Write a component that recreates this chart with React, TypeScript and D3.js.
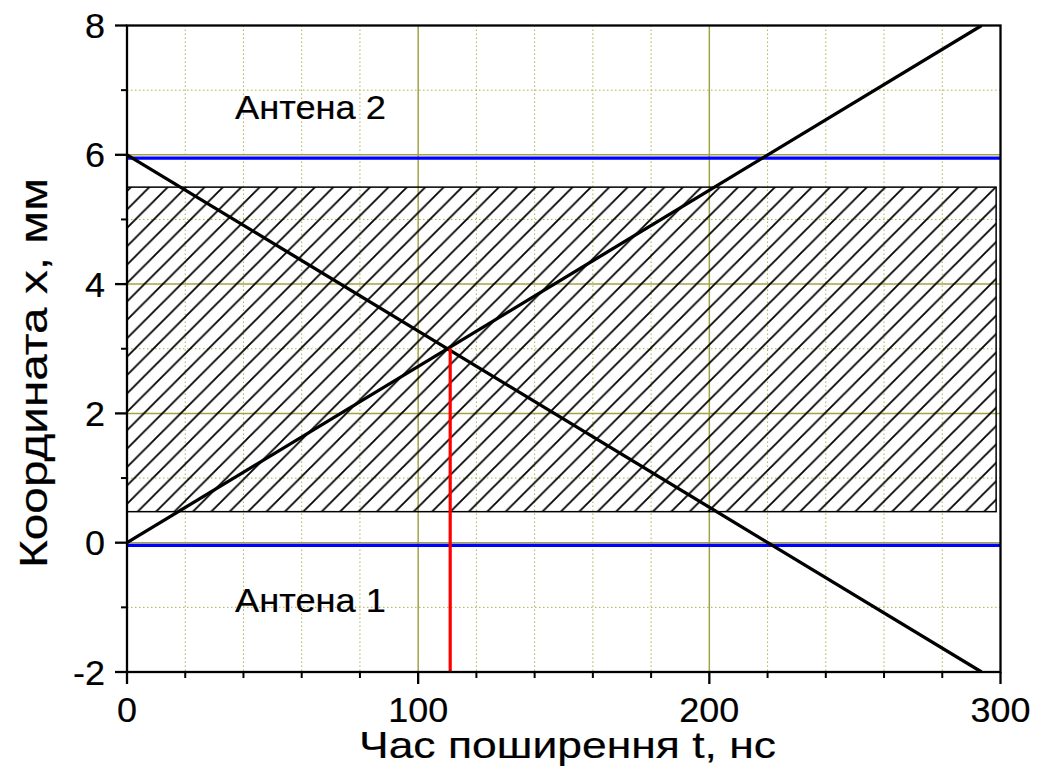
import React from "react";
import * as d3 from "d3";

// ---- data ----
const xDomain = [0, 300];
const yDomain = [-2, 8];
const xMajorTicks = [0, 100, 200, 300];
const xMinorTicks = [20, 40, 60, 80, 120, 140, 160, 180, 220, 240, 260, 280];
const yMajorTicks = [-2, 0, 2, 4, 6, 8];
const yMinorTicks = [-1, 1, 3, 5, 7];
const antennaLevels = [-0.04, 5.95];
const risingLine = [
  { t: 0, x: 0 },
  { t: 293.5, x: 8 },
];
const fallingLine = [
  { t: 0, x: 6 },
  { t: 293.5, x: -2 },
];
const meetingLine = [
  { t: 111, x: -2 },
  { t: 111, x: 3 },
];
const hatchT = [0, 298.5];
const hatchX = [0.48, 5.5];
const annotations = [
  { text: "Антена 2", t: 37.1, x: 6.55 },
  { text: "Антена 1", t: 37.1, x: -1.07 },
];
const xTitle = "Час поширення t, нс";
const yTitle = "Координата x, мм";

const FONT = "'Liberation Sans', Arial, sans-serif";

export default function App() {
  const xs = d3.scaleLinear().domain(xDomain).range([127, 1000.5]);
  const ys = d3.scaleLinear().domain(yDomain).range([672, 25.5]);
  const line = d3
    .line<{ t: number; x: number }>()
    .x((d) => xs(d.t))
    .y((d) => ys(d.x));

  const left = xs(xDomain[0]);
  const right = xs(xDomain[1]);
  const top = ys(yDomain[1]);
  const bottom = ys(yDomain[0]);

  const majorGrid = "#a3a345";
  const minorGrid = "#b0b050";
  const textStroke = { stroke: "#000", strokeWidth: 0.2 };

  const labelLen = (v: number) => {
    const s = String(v);
    return s.replace("-", "").length * 20 + (s.includes("-") ? 12 : 0);
  };

  return (
    <svg
      width={1042}
      height={772}
      style={{ position: "absolute", left: 0, top: 0, background: "#fff" }}
      fontFamily={FONT}
    >
      <defs>
        <pattern
          id="hatch"
          patternUnits="userSpaceOnUse"
          width={18.4}
          height={18.4}
          x={left}
          y={top}
        >
          <path
            d="M-2,2 L2,-2 M0,18.4 L18.4,0 M16.4,20.4 L20.4,16.4"
            stroke="#000"
            strokeWidth={1.8}
          />
        </pattern>
        <clipPath id="plotClip">
          <rect x={left} y={top} width={right - left} height={bottom - top} />
        </clipPath>
      </defs>

      {/* minor grid */}
      {xMinorTicks.map((t) => (
        <line
          key={"xm" + t}
          x1={xs(t)}
          x2={xs(t)}
          y1={top}
          y2={bottom}
          stroke={minorGrid}
          strokeWidth={1}
          strokeDasharray="1.5,2.5"
        />
      ))}
      {yMinorTicks.map((v) => (
        <line
          key={"ym" + v}
          x1={left}
          x2={right}
          y1={ys(v)}
          y2={ys(v)}
          stroke={minorGrid}
          strokeWidth={1}
          strokeDasharray="1.5,2.5"
        />
      ))}
      {/* major grid */}
      {xMajorTicks
        .filter((t) => t > xDomain[0] && t < xDomain[1])
        .map((t) => (
          <line
            key={"xM" + t}
            x1={xs(t)}
            x2={xs(t)}
            y1={top}
            y2={bottom}
            stroke={majorGrid}
            strokeWidth={1.5}
          />
        ))}
      {yMajorTicks
        .filter((v) => v > yDomain[0] && v < yDomain[1])
        .map((v) => (
          <line
            key={"yM" + v}
            x1={left}
            x2={right}
            y1={ys(v)}
            y2={ys(v)}
            stroke={majorGrid}
            strokeWidth={1.5}
          />
        ))}

      {/* hatched region */}
      <rect
        x={xs(hatchT[0])}
        y={ys(hatchX[1])}
        width={xs(hatchT[1]) - xs(hatchT[0])}
        height={ys(hatchX[0]) - ys(hatchX[1])}
        fill="url(#hatch)"
        stroke="#000"
        strokeWidth={1.5}
      />

      {/* antenna levels */}
      {antennaLevels.map((v) => (
        <line
          key={"a" + v}
          x1={left}
          x2={right}
          y1={ys(v)}
          y2={ys(v)}
          stroke="#0000ff"
          strokeWidth={3.2}
        />
      ))}

      <g clipPath="url(#plotClip)">
        <path d={line(risingLine) || ""} stroke="#000" strokeWidth={3.3} fill="none" />
        <path d={line(fallingLine) || ""} stroke="#000" strokeWidth={3.3} fill="none" />
      </g>
      <path d={line(meetingLine) || ""} stroke="#ff0000" strokeWidth={3.2} fill="none" />

      {/* annotations */}
      {annotations.map((a) => (
        <text
          key={a.text}
          x={xs(a.t)}
          y={ys(a.x)}
          fontSize={34}
          textLength={151}
          lengthAdjust="spacingAndGlyphs"
          fill="#000"
          {...textStroke}
        >
          {a.text}
        </text>
      ))}

      {/* frame */}
      <rect
        x={left}
        y={top}
        width={right - left}
        height={bottom - top}
        fill="none"
        stroke="#000"
        strokeWidth={2.3}
      />

      {/* x ticks */}
      {xMajorTicks.map((t) => (
        <g key={"xt" + t}>
          <line x1={xs(t)} x2={xs(t)} y1={bottom} y2={bottom + 12} stroke="#000" strokeWidth={2.3} />
          <text
            x={xs(t)}
            y={721.7}
            fontSize={35}
            textAnchor="middle"
            textLength={labelLen(t)}
            lengthAdjust="spacingAndGlyphs"
            {...textStroke}
          >
            {t}
          </text>
        </g>
      ))}
      {xMinorTicks.map((t) => (
        <line key={"xmt" + t} x1={xs(t)} x2={xs(t)} y1={bottom} y2={bottom + 6} stroke="#000" strokeWidth={2} />
      ))}

      {/* y ticks */}
      {yMajorTicks.map((v) => (
        <g key={"yt" + v}>
          <line x1={left - 12} x2={left} y1={ys(v)} y2={ys(v)} stroke="#000" strokeWidth={2.3} />
          <text
            x={105}
            y={ys(v) + 12.5}
            fontSize={35}
            textAnchor="end"
            textLength={labelLen(v)}
            lengthAdjust="spacingAndGlyphs"
            {...textStroke}
          >
            {v}
          </text>
        </g>
      ))}
      {yMinorTicks.map((v) => (
        <line key={"ymt" + v} x1={left - 6} x2={left} y1={ys(v)} y2={ys(v)} stroke="#000" strokeWidth={2} />
      ))}

      {/* axis titles */}
      <text
        x={359}
        y={758}
        fontSize={37}
        textLength={417}
        lengthAdjust="spacingAndGlyphs"
        {...textStroke}
      >
        {xTitle}
      </text>
      <text
        transform="translate(47,568) rotate(-90)"
        fontSize={39}
        textLength={390}
        lengthAdjust="spacingAndGlyphs"
        {...textStroke}
      >
        {yTitle}
      </text>
    </svg>
  );
}
